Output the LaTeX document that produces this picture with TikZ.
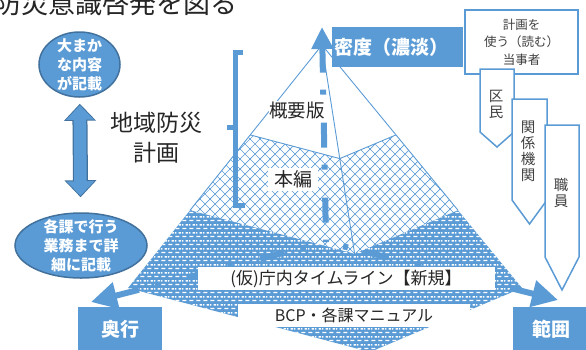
\documentclass[tikz,border=0pt]{standalone}
\usepackage{fontspec}
\setmainfont{Noto Sans CJK JP}
\usepackage{tikz}
\usetikzlibrary{positioning, arrows.meta, shapes.geometric, patterns, calc}
\definecolor{PlanBlue}{RGB}{91,155,213}
\definecolor{PlanDark}{RGB}{65,113,156}
\definecolor{PlanText}{RGB}{64,64,64}

% fill textures of the pyramid layers
\pgfdeclarepatternformonly{whitedash}{\pgfqpoint{0pt}{0pt}}{\pgfqpoint{7pt}{8pt}}{\pgfqpoint{7pt}{8pt}}{%
  \pgfpathrectangle{\pgfqpoint{0.5pt}{1pt}}{\pgfqpoint{4.5pt}{1.5pt}}%
  \pgfpathrectangle{\pgfqpoint{4pt}{5pt}}{\pgfqpoint{3pt}{1.5pt}}%
  \pgfpathrectangle{\pgfqpoint{0pt}{5pt}}{\pgfqpoint{1.5pt}{1.5pt}}%
  \pgfusepath{fill}}
\pgfdeclarepatternformonly{diamondgrid}{\pgfqpoint{-1pt}{-1pt}}{\pgfqpoint{11pt}{11pt}}{\pgfqpoint{10pt}{10pt}}{%
  \pgfsetlinewidth{0.7pt}%
  \pgfpathmoveto{\pgfqpoint{-0.5pt}{-0.5pt}}\pgfpathlineto{\pgfqpoint{10.5pt}{10.5pt}}%
  \pgfpathmoveto{\pgfqpoint{-0.5pt}{10.5pt}}\pgfpathlineto{\pgfqpoint{10.5pt}{-0.5pt}}%
  \pgfusepath{stroke}}

\tikzstyle{bubble} = [ellipse, fill=PlanBlue, draw=PlanDark, line width=1.5pt, inner sep=0pt]
\tikzstyle{bubbletext} = [align=center, text=white, inner sep=0pt, font=\bfseries\fontsize{15}{19}\selectfont]
\tikzstyle{bluetag} = [rectangle, fill=PlanBlue, text=white, inner sep=0pt, font=\bfseries\fontsize{19}{22}\selectfont]
\tikzstyle{layertext} = [fill=white, inner sep=0pt, text=black!85]
\tikzstyle{penta} = [fill=white, draw=PlanBlue, line width=1.5pt]
\tikzstyle{pentatext} = [align=center, inner sep=0pt, text=PlanText, font=\fontsize{14.5}{16}\selectfont]
\tikzstyle{pyrline} = [PlanBlue, line width=0.9pt]
\tikzstyle{axisline} = [PlanBlue, line width=6pt, dash pattern=on 25pt off 17pt on 5pt off 28pt]

\begin{document}
\begin{tikzpicture}[x=1pt, y=-1pt]
    \useasboundingbox (0,0) rectangle (586,349);

    % title, cut by the page edge
    \node[anchor=east, inner sep=0pt, text=black!85, font=\fontsize{27}{30}\selectfont] (goal) at (238,3) {防災意識啓発を図る};

    % left side: what the plan holds
    \node[bubble, minimum width=81pt, minimum height=65pt] (rough) at (79.5,64.5) {};
    \node[bubbletext] at (rough.center) {大まか\\な内容\\が記載};
    \node[bubble, minimum width=132pt, minimum height=65pt] (detail) at (81,245.5) {};
    \node[bubbletext] at (detail.center) {各課で行う\\業務まで詳\\細に記載};
    \draw[PlanDark, line width=15pt, {Triangle[width=31pt,length=17pt]}-{Triangle[width=31pt,length=17pt]}, shorten <=6pt, shorten >=15pt] (rough) -- (detail);
    \draw[PlanBlue, line width=12.5pt, {Triangle[width=27pt,length=14.5pt]}-{Triangle[width=27pt,length=14.5pt]}, shorten <=7.5pt, shorten >=16.5pt] (rough) -- (detail);

    \node[align=center, text=black!85, font=\fontsize{23}{30}\selectfont] (plan) at (156,138) {地域防災\\計画};
    \draw[PlanBlue, line width=5pt] (243,52) -- (235,52) -- (235,205) -- (245,205);
    \draw[PlanBlue, line width=5pt] (235,127) -- (227,127);

    % pyramid
    \coordinate (apex) at (322,45);
    \coordinate (baseL) at (128,288);
    \coordinate (baseF) at (370,352);
    \coordinate (baseR) at (522,288);
    \coordinate (topL) at ($(apex)!0.37!(baseL)$);
    \coordinate (topF) at ($(apex)!0.37!(baseF)$);
    \coordinate (topR) at ($(apex)!0.37!(baseR)$);
    \coordinate (midL) at ($(apex)!0.68!(baseL)$);
    \coordinate (midF) at ($(apex)!0.68!(baseF)$);
    \coordinate (midR) at ($(apex)!0.68!(baseR)$);

    \fill[PlanBlue] (midL) -- (midF) -- (midR) -- (baseR) -- (baseF) -- (baseL) -- cycle;
    \fill[pattern=whitedash, pattern color=white] (midL) -- (midF) -- (midR) -- (baseR) -- (baseF) -- (baseL) -- cycle;
    \fill[pattern=diamondgrid, pattern color=PlanBlue] (topL) -- (topF) -- (topR) -- (midR) -- (midF) -- (midL) -- cycle;
    \draw[pyrline] (apex) -- (midL) (apex) -- (midF) (apex) -- (midR);
    \draw[pyrline] (topL) -- (topF) -- (topR);

    % axes
    \coordinate (origin) at (326,242);
    \coordinate (upTip) at (322,27);
    \coordinate (leftTip) at (91,302);
    \coordinate (rightTip) at (558,300);
    \draw[axisline, {Triangle[width=21pt,length=22pt]}-] (upTip) -- (origin);
    \draw[axisline, {Triangle[width=26pt,length=26pt]}-] (leftTip) -- (origin);
    \draw[axisline, {Triangle[width=26pt,length=26pt]}-] (rightTip) -- (origin);

    % layer names
    \node[layertext, font=\fontsize{18.5}{20}\selectfont] (summary) at (297,110) {概要版};
    \node[layertext, minimum width=50pt, minimum height=23pt, font=\fontsize{19}{20}\selectfont] (mainpart) at (293,179) {本編};
    \node[layertext, minimum width=297pt, minimum height=23pt, font=\fontsize{17}{20}\selectfont] (timeline) at (346,278.5) {(仮)庁内タイムライン【新規】};
    \node[layertext, minimum width=232pt, minimum height=23pt, font=\fontsize{16}{20}\selectfont] (manual) at (354,315.5) {BCP・各課マニュアル};

    % axis names
    \node[bluetag, anchor=west, text width=127pt, align=left, inner xsep=2pt, minimum height=40pt] (density) at (332,47) {密度（濃淡）};
    \node[bluetag, anchor=north west, minimum width=84pt, minimum height=44pt] (depth) at (78,307) {奥行};
    \node[bluetag, anchor=north west, minimum width=76pt, minimum height=44pt] (range) at (513,307) {範囲};

    % readers of the plan
    \node[draw=PlanBlue, line width=1.8pt, fill=white, minimum width=113pt, minimum height=64pt, align=center, text=PlanText, font=\fontsize{12.5}{17.5}\selectfont] (reader) at (521.5,42) {計画を\\使う（読む）\\当事者};
    \draw[penta] (480,69) -- (514,69) -- (514,132) -- (497,147) -- (480,132) -- cycle;
    \node[pentatext] (citizen) at (496,104) {区\\民};
    \draw[penta] (512,99) -- (547,99) -- (547,200) -- (529.5,224) -- (512,200) -- cycle;
    \node[pentatext] (agency) at (528,151) {関\\係\\機\\関};
    \draw[penta] (545,125) -- (579,125) -- (579,257) -- (562,290) -- (545,257) -- cycle;
    \node[pentatext] (staff) at (561,193) {職\\員};
\end{tikzpicture}
\end{document}
